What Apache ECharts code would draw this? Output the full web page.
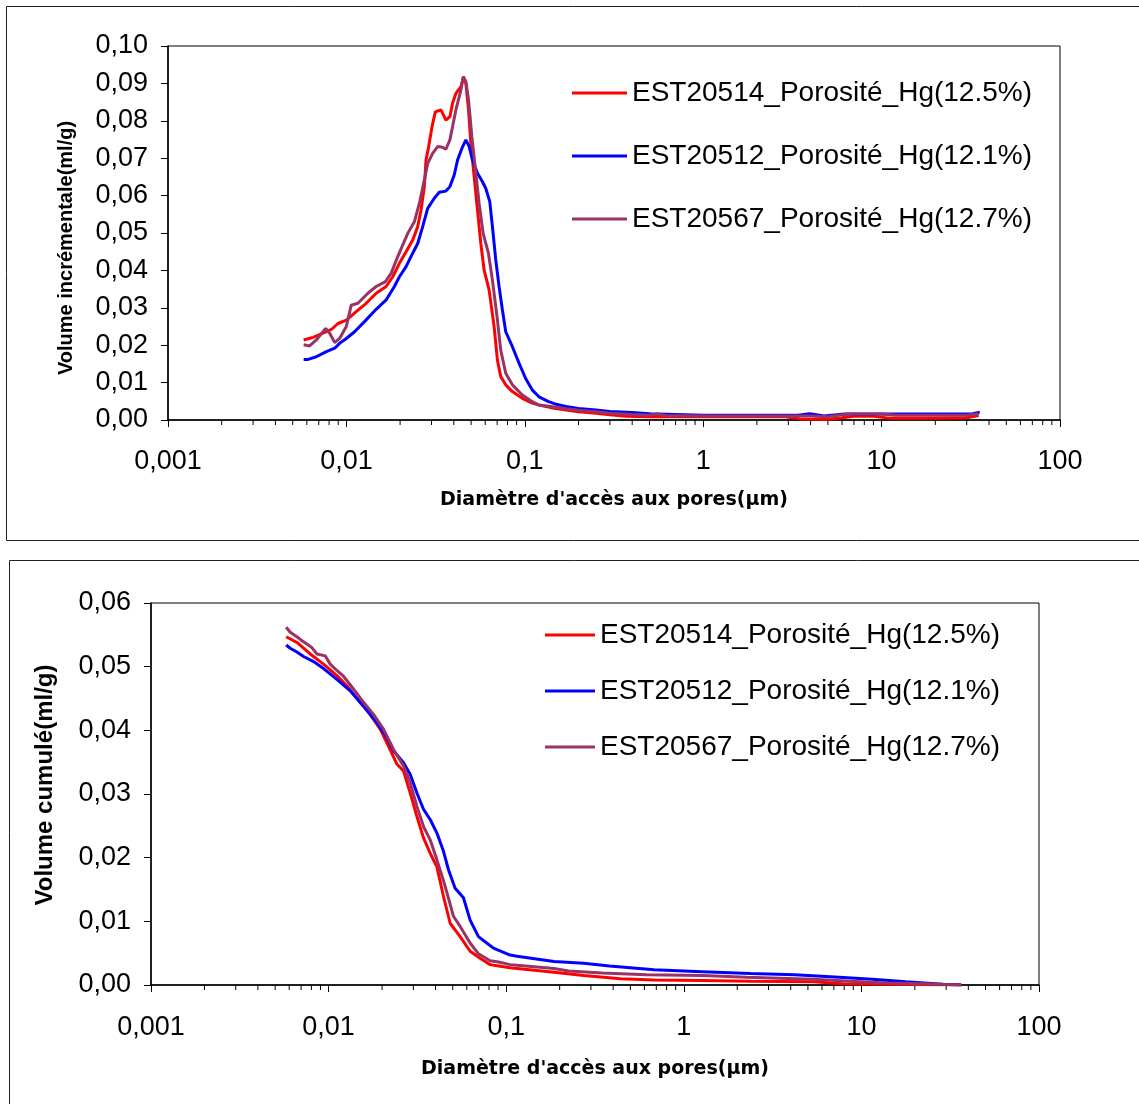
<!DOCTYPE html>
<html>
<head>
<meta charset="utf-8">
<script src="https://cdn.jsdelivr.net/npm/echarts@6/dist/echarts.min.js"></script>
<style>html,body{margin:0;padding:0;background:#fff}#c{width:1139px;height:1104px}</style>
</head>
<body>
<div id="c"></div>
<script>
const seriesNames = ['EST20514_Porosité_Hg(12.5%)', 'EST20512_Porosité_Hg(12.1%)', 'EST20567_Porosité_Hg(12.7%)'];
const seriesColors = ['#FF0000', '#0000FF', '#993366'];
const xTickLabels = ['0,001', '0,01', '0,1', '1', '10', '100'];
const minorTickMultipliers = [2, 3, 4, 5, 6, 7, 8, 9];
const decades = [0.001, 0.01, 0.1, 1, 10];
const xTitle = "Diamètre d'accès aux pores(µm)";
const yTitleTop = 'Volume incrémentale(ml/g)';
const yTitleBottom = 'Volume cumulé(ml/g)';

// Incremental volume (top chart): [diameter µm, ml/g]
const incRed = [[0.00576,0.0214],[0.0065,0.0221],[0.0074,0.0232],[0.00824,0.0242],[0.00897,0.0258],[0.00999,0.0267],[0.01135,0.0290],[0.01291,0.0312],[0.01468,0.0339],[0.0167,0.0357],[0.01819,0.0383],[0.01982,0.0419],[0.0216,0.0450],[0.02353,0.0481],[0.0251,0.0517],[0.0262,0.0561],[0.02735,0.0624],[0.02794,0.0695],[0.02892,0.0731],[0.03019,0.0784],[0.0315,0.0824],[0.03387,0.0829],[0.03613,0.0802],[0.03803,0.0811],[0.03936,0.0847],[0.04109,0.0873],[0.04383,0.0891],[0.04535,0.0918],[0.04674,0.0900],[0.04837,0.0829],[0.04984,0.0740],[0.05202,0.0651],[0.0543,0.0561],[0.05668,0.0472],[0.05916,0.0401],[0.06308,0.0348],[0.06729,0.0250],[0.07024,0.0160],[0.0733,0.0116],[0.07819,0.0094],[0.08517,0.0076],[0.09687,0.0058],[0.1102,0.0045],[0.1201,0.0040],[0.14,0.0033],[0.17,0.0027],[0.2,0.0022],[0.25,0.0018],[0.3,0.0014],[0.37,0.0010],[0.5,0.0009],[1,0.0009],[2,0.0009],[2.8,0.0009],[3.5,0.0003],[5,0.0002],[6,0.0006],[7,0.0010],[9,0.0010],[11,0.0005],[15,0.0005],[20,0.0005],[30,0.0006],[35,0.0012]];
const incBlue = [[0.00576,0.0162],[0.0061,0.0162],[0.00678,0.0169],[0.00772,0.0183],[0.0086,0.0192],[0.00916,0.0205],[0.00999,0.0218],[0.01111,0.0236],[0.01263,0.0263],[0.01468,0.0296],[0.0167,0.0321],[0.01858,0.0357],[0.01982,0.0383],[0.0216,0.0410],[0.02353,0.0446],[0.0251,0.0472],[0.02677,0.0517],[0.02855,0.0566],[0.0311,0.0593],[0.03315,0.0609],[0.03613,0.0612],[0.03803,0.0624],[0.04021,0.0655],[0.04198,0.0695],[0.04439,0.0726],[0.04674,0.0749],[0.04878,0.0731],[0.05092,0.0695],[0.0543,0.0660],[0.05791,0.0637],[0.06044,0.0619],[0.06363,0.0584],[0.06585,0.0517],[0.06874,0.0428],[0.07175,0.0357],[0.0749,0.0294],[0.07819,0.0236],[0.08517,0.0196],[0.09282,0.0152],[0.1011,0.0111],[0.1102,0.0080],[0.1201,0.0062],[0.135,0.0050],[0.15,0.0042],[0.17,0.0036],[0.2,0.0031],[0.25,0.0027],[0.3,0.0023],[0.4,0.0020],[0.5,0.0017],[0.7,0.0015],[1,0.0013],[2,0.0013],[3.4,0.0013],[3.96,0.0017],[4.75,0.0011],[6.2,0.0016],[10,0.0016],[20,0.0016],[32,0.0016],[35.5,0.0021]];
const incPurple = [[0.00576,0.0201],[0.00622,0.0198],[0.00678,0.0214],[0.00765,0.0245],[0.00806,0.0232],[0.0086,0.0207],[0.00916,0.0218],[0.00999,0.0250],[0.01064,0.0307],[0.0116,0.0312],[0.01319,0.0339],[0.01468,0.0357],[0.01655,0.0370],[0.01781,0.0392],[0.0194,0.0437],[0.02207,0.0499],[0.02404,0.0530],[0.02564,0.0579],[0.02735,0.0642],[0.02855,0.0686],[0.03044,0.0713],[0.03245,0.0731],[0.03461,0.0729],[0.03613,0.0724],[0.03803,0.0749],[0.03936,0.0784],[0.04109,0.0829],[0.04383,0.0882],[0.04516,0.0918],[0.04674,0.0905],[0.04837,0.0856],[0.05049,0.0758],[0.05315,0.0660],[0.05547,0.0579],[0.0584,0.0499],[0.06254,0.0446],[0.06585,0.0374],[0.07024,0.0267],[0.0733,0.0187],[0.07819,0.0125],[0.08517,0.0094],[0.09687,0.0067],[0.1102,0.0049],[0.1201,0.0040],[0.14,0.0036],[0.17,0.0030],[0.2,0.0026],[0.25,0.0022],[0.3,0.0018],[0.4,0.0015],[0.5,0.0013],[0.55,0.0016],[0.62,0.0012],[1,0.0011],[2,0.0011],[3,0.0011],[4,0.0011],[5,0.0009],[6.5,0.0016],[10,0.0016],[12,0.0013],[20,0.0013],[30,0.0013],[35,0.0017]];

// Cumulative volume (bottom chart): [diameter µm, ml/g]
const cumRed = [[0.00577,0.0547],[0.00663,0.0538],[0.00788,0.0520],[0.00937,0.0504],[0.01113,0.0486],[0.01267,0.0470],[0.01506,0.0444],[0.01714,0.0425],[0.01952,0.0402],[0.02175,0.0375],[0.02423,0.0347],[0.02641,0.0336],[0.0288,0.0302],[0.03139,0.0265],[0.03422,0.0231],[0.03731,0.0207],[0.04068,0.0186],[0.04435,0.0139],[0.04835,0.0097],[0.05504,0.0076],[0.06264,0.0053],[0.07131,0.0042],[0.08116,0.0032],[0.0906,0.0030],[0.1052,0.0027],[0.1152,0.0026],[0.186,0.0020],[0.273,0.0015],[0.441,0.0010],[0.68,0.0008],[1.27,0.0007],[2.37,0.0006],[5.36,0.0005],[7.87,0.0002],[14,0.0001],[36.5,0]];
const cumBlue = [[0.00577,0.0534],[0.00608,0.0529],[0.00663,0.0523],[0.00723,0.0516],[0.00823,0.0508],[0.00937,0.0497],[0.01113,0.0480],[0.01323,0.0462],[0.01573,0.0438],[0.01869,0.0412],[0.02128,0.0389],[0.0232,0.0368],[0.02641,0.0349],[0.0288,0.0331],[0.03139,0.0302],[0.03422,0.0276],[0.03731,0.0260],[0.04068,0.0239],[0.04435,0.0210],[0.04731,0.0181],[0.05157,0.0152],[0.05745,0.0137],[0.06264,0.0102],[0.06979,0.0076],[0.07607,0.0068],[0.08475,0.0058],[0.1052,0.0047],[0.1152,0.0045],[0.186,0.0037],[0.273,0.0034],[0.382,0.0030],[0.68,0.0024],[1.27,0.0021],[2.37,0.0018],[4.21,0.0016],[7.5,0.0012],[11.5,0.0009],[17.8,0.0005],[28.7,0.0001],[36.5,0]];
const cumPurple = [[0.00577,0.0562],[0.00608,0.0554],[0.00663,0.0547],[0.00723,0.0539],[0.00805,0.0530],[0.00859,0.0520],[0.00957,0.0517],[0.01021,0.0504],[0.01113,0.0494],[0.01213,0.0485],[0.01381,0.0465],[0.01573,0.0444],[0.0179,0.0425],[0.02038,0.0402],[0.0232,0.0370],[0.02641,0.0344],[0.0288,0.0318],[0.03139,0.0281],[0.03422,0.0249],[0.03731,0.0228],[0.04068,0.0197],[0.04532,0.0155],[0.05047,0.0108],[0.05504,0.0092],[0.06264,0.0066],[0.06979,0.0049],[0.08116,0.0038],[0.0906,0.0036],[0.1052,0.0032],[0.1152,0.0031],[0.186,0.0026],[0.2247,0.0022],[0.347,0.0019],[0.618,0.0016],[1.27,0.0015],[2.26,0.0012],[5.36,0.0009],[8.66,0.0006],[14,0.0003],[22.6,0.0002],[36.5,0]];

const minorTicks = [];
decades.forEach(d => minorTickMultipliers.forEach(m => minorTicks.push([m * d, 0])));

const FONT = '"Liberation Sans", Arial, sans-serif';
const fmtX = v => xTickLabels[Math.round(Math.log10(v)) + 3];
const fmtY = v => v.toFixed(2).replace('.', ',');

function xAxis(gridIndex, nameGap, labelMargin) {
  return {
    type: 'log', logBase: 10, min: 0.001, max: 100, gridIndex,
    name: xTitle, nameLocation: 'middle', nameGap,
    nameTextStyle: { fontFamily: '"DejaVu Sans", sans-serif', fontWeight: 'bold', fontSize: 19, color: '#000' },
    axisLine: { show: true, lineStyle: { color: '#000', width: 1.5 } },
    axisTick: { show: true, length: 7, lineStyle: { color: '#000', width: 1 } },
    axisLabel: { formatter: fmtX, fontFamily: FONT, fontSize: 27, color: '#000', margin: labelMargin },
    splitLine: { show: false }, minorTick: { show: false }
  };
}
function yAxis(gridIndex, max, name, nameGap, nameSize, namePad) {
  return {
    type: 'value', min: 0, max, interval: 0.01, gridIndex,
    name, nameLocation: 'middle', nameGap, nameRotate: 90,
    nameTextStyle: { fontFamily: FONT, fontWeight: 'bold', fontSize: nameSize, color: '#000', padding: namePad },
    axisLine: { show: true, lineStyle: { color: '#000', width: 1.5 } },
    axisTick: { show: true, length: 7, lineStyle: { color: '#000', width: 1 } },
    axisLabel: { formatter: fmtY, fontFamily: FONT, fontSize: 27, color: '#000', margin: 20 },
    splitLine: { show: false }
  };
}
function lineSeries(name, color, data, axisIdx) {
  return {
    name, type: 'line', data, xAxisIndex: axisIdx, yAxisIndex: axisIdx,
    showSymbol: false, symbol: 'none', smooth: false, animation: false,
    lineStyle: { color, width: 3 }, itemStyle: { color }
  };
}
function minorTickSeries(axisIdx) {
  return {
    type: 'custom', xAxisIndex: axisIdx, yAxisIndex: axisIdx, data: minorTicks,
    silent: true, clip: false, animation: false, encode: { x: 0, y: 1 },
    renderItem: (params, api) => {
      const p = api.coord([api.value(0), 0]);
      return { type: 'line', shape: { x1: p[0], y1: p[1], x2: p[0], y2: p[1] + 5 }, style: { stroke: '#000', lineWidth: 1 } };
    }
  };
}
function legend(left, top, itemWidth, gap) {
  return {
    data: seriesNames, orient: 'vertical', left, top, itemWidth, itemHeight: 3, icon: 'rect',
    padding: 0, itemGap: gap, textStyle: { fontFamily: FONT, fontSize: 28, color: '#000', lineHeight: 30 },
    selectedMode: false
  };
}

const chart = echarts.init(document.getElementById('c'), null, { renderer: 'canvas' });
chart.setOption({
  backgroundColor: '#fff',
  animation: false,
  graphic: [
    { type: 'rect', shape: { x: 6.5, y: 6.5, width: 1145, height: 534 }, style: { fill: 'none', stroke: '#222', lineWidth: 1 }, z: -1 },
    { type: 'rect', shape: { x: 9.5, y: 560.5, width: 1145, height: 560 }, style: { fill: 'none', stroke: '#222', lineWidth: 1 }, z: -1 }
  ],
  grid: [
    { left: 168, top: 46, width: 892, height: 374, show: true, borderColor: '#000', borderWidth: 1, backgroundColor: 'transparent' },
    { left: 151, top: 603, width: 888, height: 382, show: true, borderColor: '#000', borderWidth: 1, backgroundColor: 'transparent' }
  ],
  legend: [legend(572, 78, 55, 33), legend(545, 620, 50, 26)],
  xAxis: [xAxis(0, 71, 28), xAxis(1, 75, 29)],
  yAxis: [yAxis(0, 0.1, yTitleTop, 92, 20, [0, 30, 0, 0]), yAxis(1, 0.06, yTitleBottom, 94, 24, [0, 0, 0, 18])],
  series: [
    lineSeries(seriesNames[0], seriesColors[0], incRed, 0),
    lineSeries(seriesNames[1], seriesColors[1], incBlue, 0),
    lineSeries(seriesNames[2], seriesColors[2], incPurple, 0),
    lineSeries(seriesNames[0], seriesColors[0], cumRed, 1),
    lineSeries(seriesNames[1], seriesColors[1], cumBlue, 1),
    lineSeries(seriesNames[2], seriesColors[2], cumPurple, 1),
    minorTickSeries(0), minorTickSeries(1)
  ]
});
</script>
</body>
</html>
